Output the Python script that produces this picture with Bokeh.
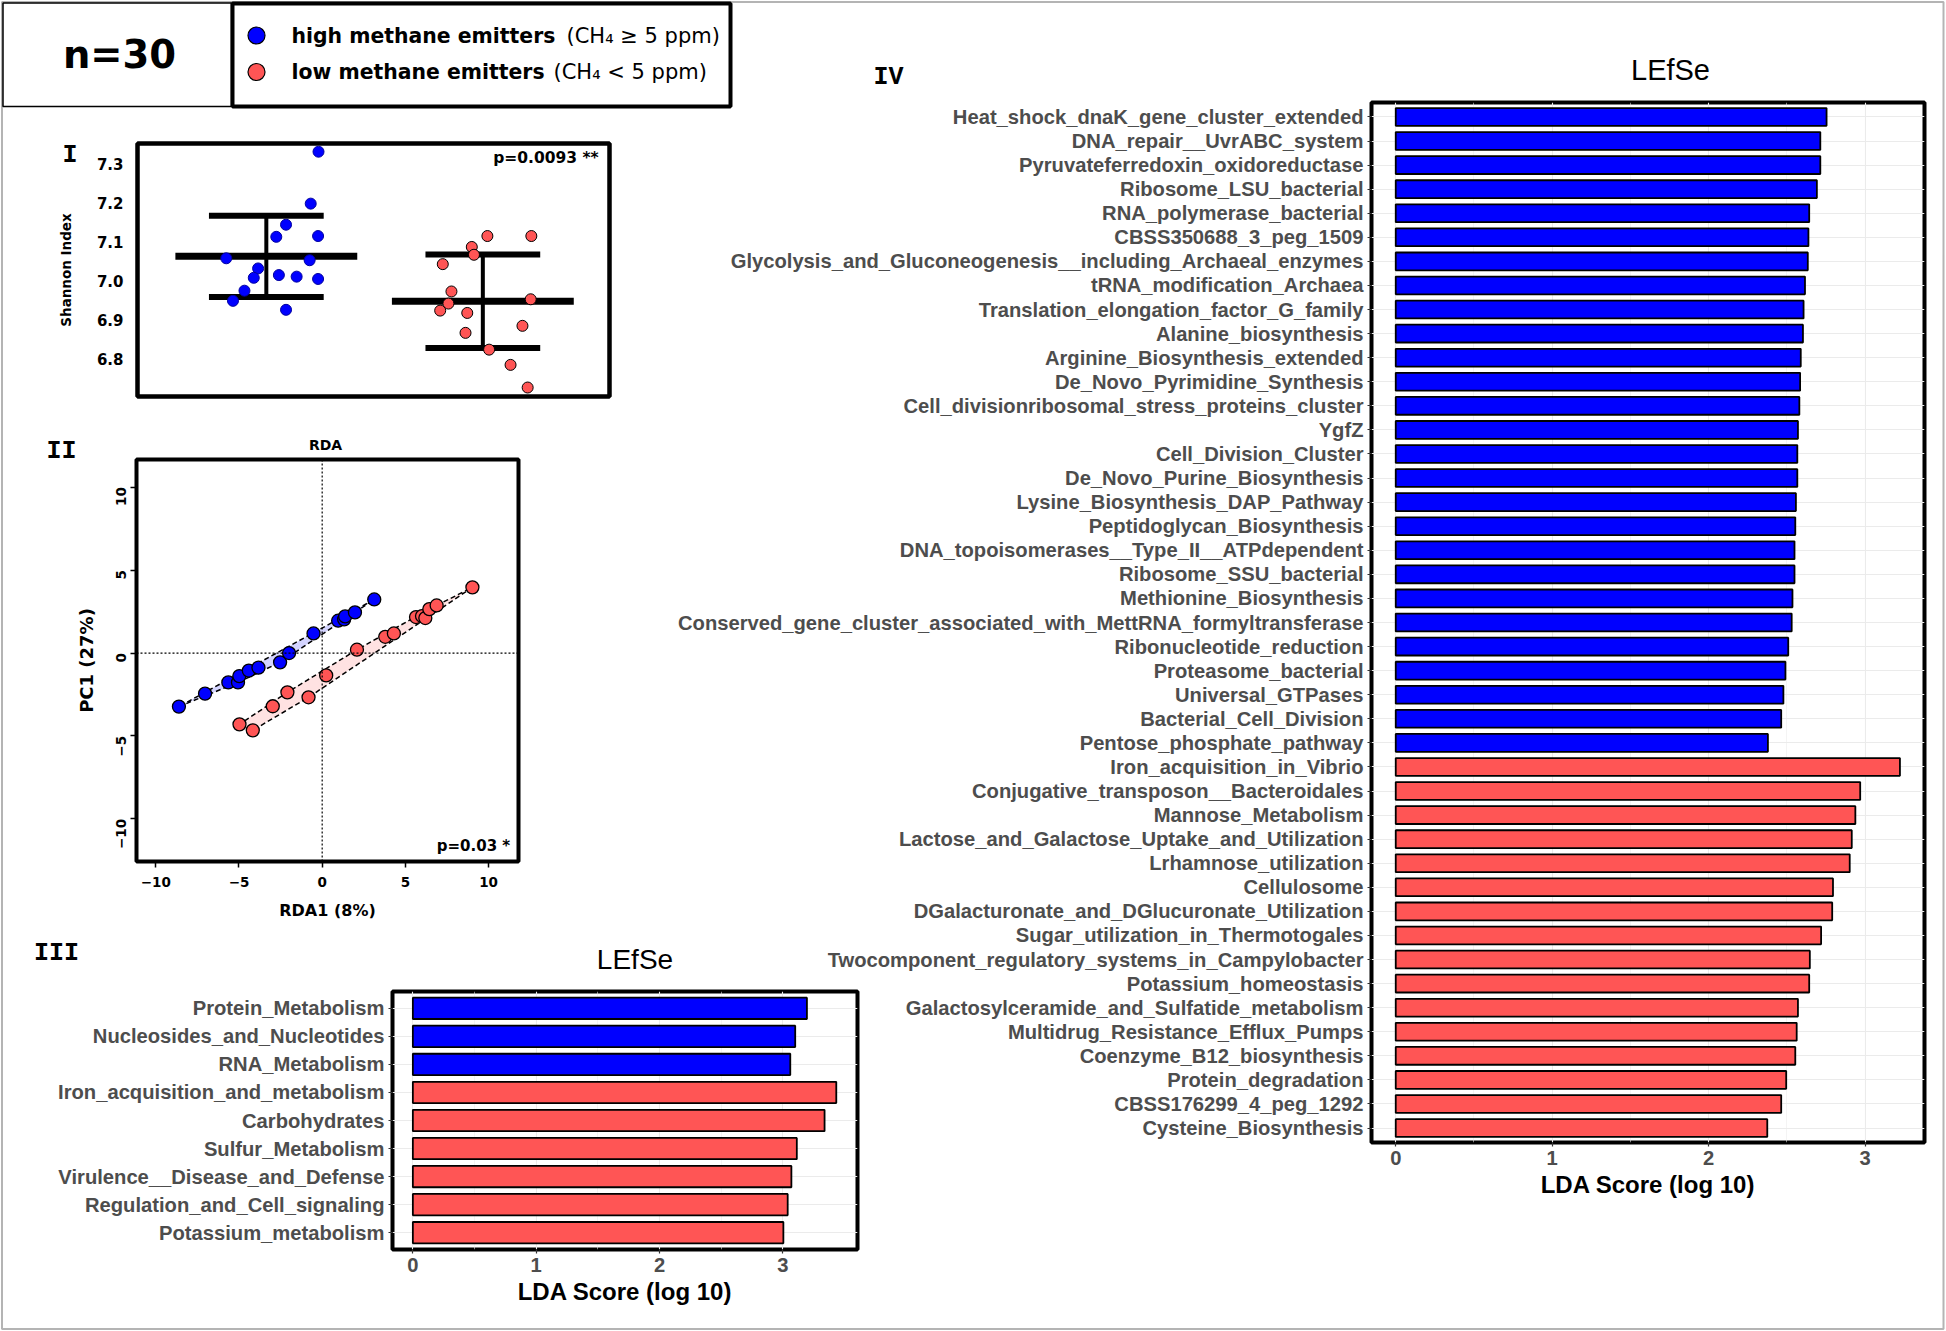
import math
from bokeh.plotting import figure
from bokeh.models import (Range1d, FixedTicker, Label, Span,
                          ColumnDataSource, PrintfTickFormatter)
from bokeh.embed import file_html
from bokeh.resources import INLINE

# ------------------------------------------------------------------ DATA
group_names = ["high methane emitters", "low methane emitters"]
group_colors = ["#0000FF", "#FF5555"]

# Panel I - Shannon index per sample (jitter = horizontal offset from group)
high_shannon = [7.332, 7.199, 7.145, 7.114, 7.116, 7.059, 7.054, 7.033,
                7.009, 7.016, 7.012, 7.006, 6.976, 6.950, 6.927]
high_jitter = [0.241, 0.205, 0.091, 0.046, 0.239, -0.185, 0.200, -0.038,
               -0.058, 0.058, 0.140, 0.239, -0.101, -0.154, 0.091]
low_shannon = [7.116, 7.116, 7.088, 7.068, 7.044, 6.974, 6.954, 6.943,
               6.925, 6.919, 6.886, 6.868, 6.825, 6.786, 6.728]
low_jitter = [0.021, 0.224, -0.051, -0.041, -0.185, -0.145, 0.221, -0.159,
              -0.197, -0.072, 0.183, -0.080, 0.029, 0.128, 0.207]
shannon_mean = [7.064, 6.949]
shannon_sd = [0.104, 0.120]
shannon_ticks = [6.8, 6.9, 7.0, 7.1, 7.2, 7.3]

# Panel II - RDA ordination
high_rda1 = [-8.61, -7.04, -5.64, -5.06, -4.98, -4.41, -3.83, -2.53,
             -1.99, -0.52, 0.96, 1.32, 1.38, 1.97, 3.13]
high_pc1 = [-3.23, -2.45, -1.77, -1.77, -1.39, -1.06, -0.88, -0.56,
            0.00, 1.18, 1.95, 2.03, 2.21, 2.45, 3.23]
low_rda1 = [-4.97, -4.17, -2.97, -2.09, -0.82, 0.24, 2.09, 3.79,
            4.31, 5.64, 6.00, 6.20, 6.44, 6.88, 9.03]
low_pc1 = [-4.30, -4.66, -3.21, -2.37, -2.67, -1.35, 0.20, 0.98,
           1.18, 2.17, 2.23, 2.11, 2.65, 2.87, 3.96]
rda_ticks = [-10, -5, 0, 5, 10]

# Panel III - LEfSe (level 1)
cat3 = ["Protein_Metabolism", "Nucleosides_and_Nucleotides", "RNA_Metabolism",
        "Iron_acquisition_and_metabolism", "Carbohydrates", "Sulfur_Metabolism",
        "Virulence__Disease_and_Defense", "Regulation_and_Cell_signaling",
        "Potassium_metabolism"]
lda3 = [3.195, 3.100, 3.060, 3.433, 3.338, 3.113, 3.069, 3.039, 3.004]
grp3 = [0, 0, 0, 1, 1, 1, 1, 1, 1]

# Panel IV - LEfSe (level 3)
cat4 = ["Heat_shock_dnaK_gene_cluster_extended", "DNA_repair__UvrABC_system",
        "Pyruvateferredoxin_oxidoreductase", "Ribosome_LSU_bacterial",
        "RNA_polymerase_bacterial", "CBSS350688_3_peg_1509",
        "Glycolysis_and_Gluconeogenesis__including_Archaeal_enzymes",
        "tRNA_modification_Archaea", "Translation_elongation_factor_G_family",
        "Alanine_biosynthesis", "Arginine_Biosynthesis_extended",
        "De_Novo_Pyrimidine_Synthesis",
        "Cell_divisionribosomal_stress_proteins_cluster", "YgfZ",
        "Cell_Division_Cluster", "De_Novo_Purine_Biosynthesis",
        "Lysine_Biosynthesis_DAP_Pathway", "Peptidoglycan_Biosynthesis",
        "DNA_topoisomerases__Type_II__ATPdependent", "Ribosome_SSU_bacterial",
        "Methionine_Biosynthesis",
        "Conserved_gene_cluster_associated_with_MettRNA_formyltransferase",
        "Ribonucleotide_reduction", "Proteasome_bacterial", "Universal_GTPases",
        "Bacterial_Cell_Division", "Pentose_phosphate_pathway",
        "Iron_acquisition_in_Vibrio", "Conjugative_transposon__Bacteroidales",
        "Mannose_Metabolism", "Lactose_and_Galactose_Uptake_and_Utilization",
        "Lrhamnose_utilization", "Cellulosome",
        "DGalacturonate_and_DGlucuronate_Utilization",
        "Sugar_utilization_in_Thermotogales",
        "Twocomponent_regulatory_systems_in_Campylobacter",
        "Potassium_homeostasis", "Galactosylceramide_and_Sulfatide_metabolism",
        "Multidrug_Resistance_Efflux_Pumps", "Coenzyme_B12_biosynthesis",
        "Protein_degradation", "CBSS176299_4_peg_1292", "Cysteine_Biosynthesis"]
lda4 = [2.754, 2.714, 2.714, 2.692, 2.643, 2.638, 2.634, 2.616, 2.607, 2.603,
        2.589, 2.585, 2.580, 2.571, 2.567, 2.567, 2.558, 2.554, 2.549, 2.549,
        2.536, 2.531, 2.509, 2.491, 2.478, 2.464, 2.379,
        3.223, 2.969, 2.938, 2.915, 2.902, 2.795, 2.790, 2.719, 2.647, 2.643,
        2.571, 2.563, 2.554, 2.496, 2.464, 2.375]
grp4 = [0] * 27 + [1] * 16
lda_ticks = [0, 1, 2, 3]

# ------------------------------------------------------------------ HELPERS
SANS = "DejaVu Sans"
GG = "Liberation Sans"
MONO = "Liberation Mono"


def place(fig, left, top):
    # each figure is its own root; absolute position on the page
    fig.styles = {"position": "absolute", "left": f"{left}px", "top": f"{top}px"}


def make_fig(frame_left, frame_top, fw, fh, ml, mr, mt, mb, xr, yr, **kw):
    p = figure(width=fw + ml + mr, height=fh + mt + mb,
               x_range=Range1d(*xr), y_range=Range1d(*yr),
               output_backend="svg", toolbar_location=None,
               min_border_left=ml, min_border_right=mr,
               min_border_top=mt, min_border_bottom=mb, **kw)
    p.border_fill_color = None
    p.background_fill_color = "white"
    place(p, frame_left - ml, frame_top - mt)
    return p


def lab(fig, x, y, text, font, size, bold=True, align="center", color="black"):
    fig.add_layout(Label(x=x, y=y, text=text, text_font=font,
                         text_font_size=size,
                         text_font_style="bold" if bold else "normal",
                         text_align=align, text_baseline="middle",
                         text_color=color))


def convex_hull(xs, ys):
    pts = sorted(set(zip(xs, ys)))

    def cross(o, a, b):
        return (a[0] - o[0]) * (b[1] - o[1]) - (a[1] - o[1]) * (b[0] - o[0])
    lower, upper = [], []
    for q in pts:
        while len(lower) >= 2 and cross(lower[-2], lower[-1], q) <= 0:
            lower.pop()
        lower.append(q)
    for q in reversed(pts):
        while len(upper) >= 2 and cross(upper[-2], upper[-1], q) <= 0:
            upper.pop()
        upper.append(q)
    hull = lower[:-1] + upper[:-1]
    return [q[0] for q in hull], [q[1] for q in hull]


# ------------------------------------------------------------------ BACKGROUND
W, H = 1945, 1330
bg = figure(width=W, height=H, x_range=Range1d(0, W), y_range=Range1d(H, 0),
            output_backend="svg", toolbar_location=None,
            x_axis_location=None, y_axis_location=None, min_border=0)
bg.outline_line_color = None
bg.grid.visible = False
bg.background_fill_color = "white"
bg.border_fill_color = "white"
place(bg, 0, 0)
bg.quad(left=[1.5], right=[1943], top=[1.5], bottom=[1328.5], fill_color=None,
        line_color="#B4B4B4", line_width=2)
bg.quad(left=[2.5], right=[231], top=[2.5], bottom=[106], fill_color=None,
        line_color="black", line_width=1.5)
bg.quad(left=[232], right=[730], top=[3], bottom=[106], fill_color=None,
        line_color="black", line_width=4)
bg.scatter(x=[256, 256], y=[35, 71.5], size=17, fill_color=group_colors,
           line_color="black", line_width=1.2)

lab(bg, 119, 54, "n=30", SANS, "38.5px")
for yy, bold_txt, norm_txt, xn in [(35, "high methane emitters", "(CH₄ ≥ 5 ppm)", 566),
                                   (71.5, "low methane emitters", "(CH₄ < 5 ppm)", 553)]:
    lab(bg, 291, yy, bold_txt, SANS, "20.4px", align="left")
    lab(bg, xn, yy, norm_txt, SANS, "21px", bold=False, align="left")

for txt, x, y in [("I", 69.6, 155), ("II", 61, 451), ("III", 56, 953), ("IV", 888, 77)]:
    lab(bg, x, y, txt, MONO, "25px")
lab(bg, 325, 444, "RDA", SANS, "14px")
lab(bg, 634.5, 959, "LEfSe", GG, "28px", bold=False)
lab(bg, 1670, 69, "LEfSe", GG, "29px", bold=False)

# ------------------------------------------------------------------ PANEL I
p1 = make_fig(137, 143, 472, 253, 120, 12, 12, 12, (0.405, 2.585), (6.705, 7.353),
              x_axis_location=None)
p1.outline_line_color = "black"
p1.outline_line_width = 4.5
p1.grid.visible = False
ya = p1.yaxis[0]
ya.ticker = FixedTicker(ticks=shannon_ticks)
ya.formatter = PrintfTickFormatter(format="%.1f")
ya.axis_line_color = None
ya.major_tick_line_color = None
ya.minor_tick_line_color = None
ya.major_label_text_font = SANS
ya.major_label_text_font_style = "bold"
ya.major_label_text_font_size = "15px"
ya.major_label_text_color = "black"
ya.major_label_standoff = 8
ya.axis_label = "Shannon Index"
ya.axis_label_text_font = SANS
ya.axis_label_text_font_style = "bold"
ya.axis_label_text_font_size = "13.5px"
ya.axis_label_text_color = "black"
ya.axis_label_standoff = 20

gx = [1, 2]
p1.segment(x0=[g - 0.42 for g in gx], x1=[g + 0.42 for g in gx],
           y0=shannon_mean, y1=shannon_mean, line_width=7, line_color="black")
p1.segment(x0=[g - 0.265 for g in gx] * 2, x1=[g + 0.265 for g in gx] * 2,
           y0=[m + s for m, s in zip(shannon_mean, shannon_sd)] +
              [m - s for m, s in zip(shannon_mean, shannon_sd)],
           y1=[m + s for m, s in zip(shannon_mean, shannon_sd)] +
              [m - s for m, s in zip(shannon_mean, shannon_sd)],
           line_width=6, line_color="black")
p1.segment(x0=gx, x1=gx, y0=[m - s for m, s in zip(shannon_mean, shannon_sd)],
           y1=[m + s for m, s in zip(shannon_mean, shannon_sd)],
           line_width=4, line_color="black")
p1.scatter(x=[1 + j for j in high_jitter], y=high_shannon, size=11,
           fill_color=group_colors[0], line_color="#0000A0", line_width=1)
p1.scatter(x=[2 + j for j in low_jitter], y=low_shannon, size=11,
           fill_color=group_colors[1], line_color="black", line_width=1)
lab(p1, 2.535, 7.317, "p=0.0093 **", SANS, "15.5px", align="right")

# ------------------------------------------------------------------ PANEL II
p2 = make_fig(135.5, 459, 382, 402, 80, 12, 12, 70, (-11.16, 11.8), (-12.57, 11.67))
p2.outline_line_color = "black"
p2.outline_line_width = 4
p2.grid.visible = False
for ax in (p2.xaxis[0], p2.yaxis[0]):
    ax.ticker = FixedTicker(ticks=rda_ticks)
    ax.axis_line_color = None
    ax.major_tick_out = 6
    ax.major_tick_in = 0
    ax.major_tick_line_width = 1.5
    ax.major_tick_line_color = "black"
    ax.minor_tick_line_color = None
    ax.major_label_text_font = SANS
    ax.major_label_text_font_style = "bold"
    ax.major_label_text_font_size = "13.5px"
    ax.major_label_text_color = "black"
    ax.axis_label_text_font = SANS
    ax.axis_label_text_font_style = "bold"
    ax.axis_label_text_color = "black"
p2.xaxis[0].major_label_standoff = 9
p2.xaxis[0].axis_label = "RDA1 (8%)"
p2.xaxis[0].axis_label_text_font_size = "16px"
p2.xaxis[0].axis_label_standoff = 11
p2.yaxis[0].major_label_orientation = math.pi / 2
p2.yaxis[0].major_label_standoff = 9
p2.yaxis[0].axis_label = "PC1 (27%)"
p2.yaxis[0].axis_label_text_font_size = "18px"
p2.yaxis[0].axis_label_standoff = 12

p2.add_layout(Span(location=0, dimension="height", line_color="black",
                   line_width=1.2, line_dash="2 2"))
p2.add_layout(Span(location=0, dimension="width", line_color="black",
                   line_width=1.2, line_dash="2 2"))
for xs, ys, col in [(high_rda1, high_pc1, group_colors[0]),
                    (low_rda1, low_pc1, group_colors[1])]:
    hx, hy = convex_hull(xs, ys)
    p2.patch(hx, hy, fill_color=col, fill_alpha=0.17, line_color="black",
             line_dash="5 3", line_width=1.5)
for xs, ys, col in [(high_rda1, high_pc1, group_colors[0]),
                    (low_rda1, low_pc1, group_colors[1])]:
    p2.scatter(x=xs, y=ys, size=13, fill_color=col, line_color="black",
               line_width=1.3)
lab(p2, 11.3, -11.62, "p=0.03 *", SANS, "15px", align="right")


# ------------------------------------------------------------------ LEfSe panels
def lefse(cats, vals, grps, frame_left, frame_top, fw, fh, xr, bar_h, ml):
    n = len(cats)
    ypos = [n - 1 - i for i in range(n)]
    p = make_fig(frame_left, frame_top, fw, fh, ml, 12, 8, 68, xr, (-0.6, n - 0.4))
    p.outline_line_color = "black"
    p.outline_line_width = 4
    src = ColumnDataSource(dict(y=ypos, v=vals, c=[group_colors[g] for g in grps],
                                name=cats))
    p.hbar(y="y", left=0, right="v", height=bar_h, fill_color="c",
           line_color="black", line_width=1.8, source=src)
    xa, yax = p.xaxis[0], p.yaxis[0]
    xa.ticker = FixedTicker(ticks=lda_ticks, minor_ticks=[0.5, 1.5, 2.5])
    yax.ticker = FixedTicker(ticks=ypos)
    yax.major_label_overrides = {y: c for y, c in zip(ypos, cats)}
    for ax in (xa, yax):
        ax.axis_line_color = None
        ax.major_tick_out = 4
        ax.major_tick_in = 0
        ax.major_tick_line_color = "#333333"
        ax.major_tick_line_width = 1.2
        ax.minor_tick_line_color = None
        ax.major_label_text_font = GG
        ax.major_label_text_font_style = "bold"
        ax.major_label_text_font_size = "20.2px"
        ax.major_label_text_color = "#4D4D4D"
    xa.major_label_standoff = 4
    yax.major_label_standoff = 4
    xa.axis_label = "LDA Score (log 10)"
    xa.axis_label_text_font = GG
    xa.axis_label_text_font_style = "bold"
    xa.axis_label_text_font_size = "24px"
    xa.axis_label_text_color = "black"
    xa.axis_label_standoff = 3
    p.xgrid.grid_line_color = "#EBEBEB"
    p.xgrid.grid_line_width = 1.1
    p.xgrid.minor_grid_line_color = "#EBEBEB"
    p.xgrid.minor_grid_line_width = 0.55
    p.ygrid.grid_line_color = "#EBEBEB"
    p.ygrid.grid_line_width = 1.1
    return p


p3 = lefse(cat3, lda3, grp3, 392, 991, 465, 258, (-0.165, 3.605), 0.76, 380)
p4 = lefse(cat4, lda4, grp4, 1371, 102, 553, 1040, (-0.155, 3.38), 0.74, 720)

open("out.html", "w").write(file_html([bg, p1, p2, p3, p4], INLINE))
